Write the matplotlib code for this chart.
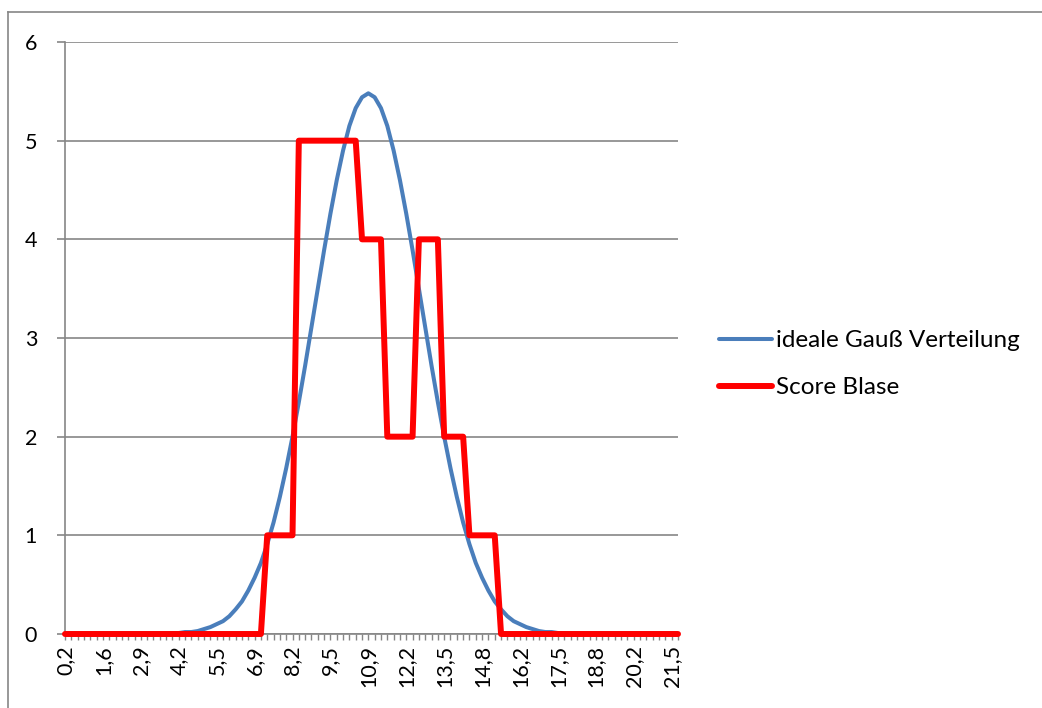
import numpy as np
import matplotlib
matplotlib.use("Agg")
import matplotlib.pyplot as plt
from matplotlib.lines import Line2D

plt.rcParams['font.family'] = ['Lato', 'DejaVu Sans']

# category labels shown on the x axis (every 6th of 98 categories)
tick_labels = ["0,2", "1,6", "2,9", "4,2", "5,5", "6,9", "8,2", "9,5", "10,9",
               "12,2", "13,5", "14,8", "16,2", "17,5", "18,8", "20,2", "21,5"]
label_every = 6
n_categories = 98

# ideale Gauss Verteilung, one value per category
gauss = [0.0, 0.0, 0.0, 0.0, 0.0, 0.0, 0.0, 0.0, 0.0, 0.0,
         0.0, 0.0, 0.0, 0.0, 0.0, 0.0, 0.0, 0.01, 0.01, 0.02,
         0.02, 0.03, 0.05, 0.07, 0.10, 0.13, 0.18, 0.25, 0.33, 0.44,
         0.57, 0.72, 0.91, 1.13, 1.39, 1.68, 2.00, 2.35, 2.72, 3.11,
         3.50, 3.89, 4.26, 4.60, 4.90, 5.15, 5.33, 5.44, 5.48, 5.44,
         5.33, 5.15, 4.90, 4.60, 4.26, 3.89, 3.50, 3.11, 2.72, 2.35,
         2.00, 1.68, 1.39, 1.13, 0.91, 0.72, 0.57, 0.44, 0.33, 0.25,
         0.18, 0.13, 0.10, 0.07, 0.05, 0.03, 0.02, 0.02, 0.01, 0.01,
         0.0, 0.0, 0.0, 0.0, 0.0, 0.0, 0.0, 0.0, 0.0, 0.0,
         0.0, 0.0, 0.0, 0.0, 0.0, 0.0, 0.0, 0.0]

# Score Blase, one value per category
score = [0, 0, 0, 0, 0, 0, 0, 0, 0, 0,
         0, 0, 0, 0, 0, 0, 0, 0, 0, 0,
         0, 0, 0, 0, 0, 0, 0, 0, 0, 0,
         0, 0, 1, 1, 1, 1, 1, 5, 5, 5,
         5, 5, 5, 5, 5, 5, 5, 4, 4, 4,
         4, 2, 2, 2, 2, 2, 4, 4, 4, 4,
         2, 2, 2, 2, 1, 1, 1, 1, 1, 0,
         0, 0, 0, 0, 0, 0, 0, 0, 0, 0,
         0, 0, 0, 0, 0, 0, 0, 0, 0, 0,
         0, 0, 0, 0, 0, 0, 0, 0]

grid_col = "#868686"
x = np.arange(n_categories)

fig = plt.figure(figsize=(10.42, 7.08), dpi=100)
ax = fig.add_axes([65 / 1042, 1 - 634 / 708, 613 / 1042, 592 / 708])

ax.plot(x, gauss, color="#4A7EBB", lw=2.9, solid_joinstyle="round",
        solid_capstyle="round", label="ideale Gauß Verteilung", clip_on=False, zorder=3)
ax.plot(x, score, color="#FF0000", lw=4.3, solid_joinstyle="round",
        solid_capstyle="round", label="Score Blase", clip_on=False, zorder=4)

ax.set_xlim(0, n_categories - 1)
ax.set_ylim(0, 6)
ax.set_yticks(range(0, 7))
ax.yaxis.grid(True, color=grid_col, lw=1.2)
ax.set_axisbelow(True)

ax.set_xticks(range(0, n_categories, label_every)[:len(tick_labels)])
ax.set_xticklabels(tick_labels, rotation=90, fontsize=15.5)
ax.set_xticks(x, minor=True)
ax.tick_params(axis="x", which="both", direction="out", length=4, color=grid_col,
               width=1, pad=4)
ax.tick_params(axis="y", direction="out", length=6, color=grid_col, width=1.2,
               labelsize=15.5, pad=18.5)
for lab in ax.get_yticklabels():
    lab.set_horizontalalignment("center")

for s in ["top", "right"]:
    ax.spines[s].set_visible(False)
for s in ["left", "bottom"]:
    ax.spines[s].set_color(grid_col)
    ax.spines[s].set_linewidth(1.2)

ax.legend(loc="upper left", bbox_to_anchor=(719 / 1042, 1 - 330 / 708),
          bbox_transform=fig.transFigure, frameon=False, fontsize=17.5,
          handlelength=2.2, handletextpad=0.16, labelspacing=1.07, borderpad=0,
          borderaxespad=0)

# outer chart border
fig.add_artist(Line2D([8 / 1042, 1], [1 - 12 / 708, 1 - 12 / 708], color=grid_col, lw=1.2))
fig.add_artist(Line2D([8 / 1042, 8 / 1042], [0, 1 - 12 / 708], color=grid_col, lw=1.2))

fig.savefig("out.png", dpi=100)
